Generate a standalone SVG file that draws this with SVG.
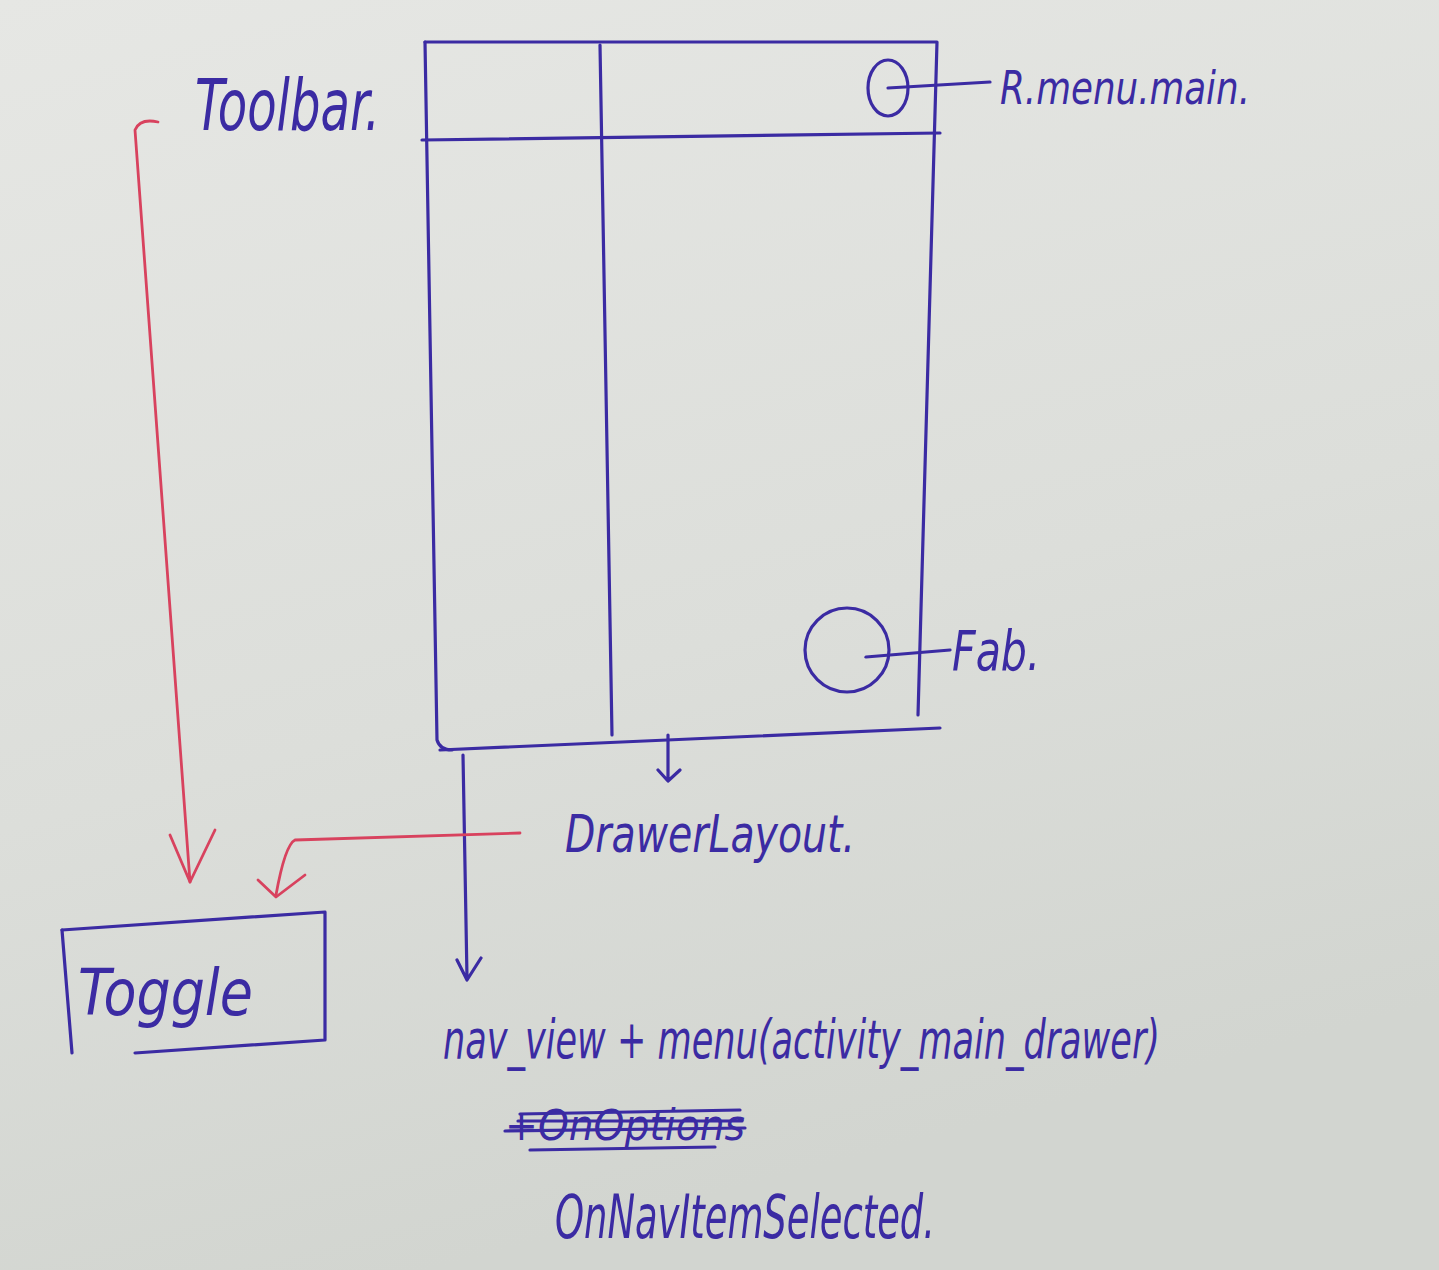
<svg xmlns="http://www.w3.org/2000/svg" width="1439" height="1270" viewBox="0 0 1439 1270">
<defs>
<linearGradient id="paper" x1="0" y1="0" x2="0.3" y2="1">
<stop offset="0" stop-color="#e6e7e4"/>
<stop offset="0.6" stop-color="#dcdeda"/>
<stop offset="1" stop-color="#d2d5d0"/>
</linearGradient>
<style>
.pen{fill:none;stroke:#3b2ba3;stroke-width:3.2;stroke-linecap:round;stroke-linejoin:round}
.red{fill:none;stroke:#d8425e;stroke-width:2.8;stroke-linecap:round;stroke-linejoin:round}
.t{fill:#3b2ba3;font-family:"DejaVu Sans Condensed","DejaVu Sans",sans-serif;font-style:italic}
</style>
</defs>
<rect width="1439" height="1270" fill="url(#paper)"/>

<g id="phone">
<path class="pen" d="M425,42 L937,42 L918,715"/>
<path class="pen" d="M425,42 L437,740 Q440,750 452,750"/>
<path class="pen" d="M422,140 L940,133"/>
<path class="pen" d="M600,45 L612,735"/>
<path class="pen" d="M440,750 L940,728"/>
</g>

<g id="menu-button">
<ellipse class="pen" cx="888" cy="88" rx="20" ry="28"/>
</g>

<g id="fab-button">
<circle class="pen" cx="847" cy="650" r="42"/>
</g>

<g id="toggle">
<path class="pen" d="M62,930 L325,912 L325,1040 L135,1053"/>
<path class="pen" d="M62,930 L72,1053"/>
<text class="t" x="78" y="1015" font-size="64" textLength="175" lengthAdjust="spacingAndGlyphs">Toggle</text>
</g>

<g id="label-toolbar">
<text class="t" x="195" y="130" font-size="72" textLength="185" lengthAdjust="spacingAndGlyphs">Toolbar.</text>
</g>

<g id="label-rmenu">
<text class="t" x="1000" y="104" font-size="46" textLength="250" lengthAdjust="spacingAndGlyphs">R.menu.main.</text>
</g>

<g id="label-fab">
<text class="t" x="952" y="670" font-size="56" textLength="88" lengthAdjust="spacingAndGlyphs">Fab.</text>
</g>

<g id="label-drawer">
<text class="t" x="565" y="852" font-size="52" textLength="290" lengthAdjust="spacingAndGlyphs">DrawerLayout.</text>
</g>

<g id="label-navview">
<text class="t" x="443" y="1058" font-size="54" textLength="717" lengthAdjust="spacingAndGlyphs">nav_view + menu(activity_main_drawer)</text>
</g>

<g id="label-options">
<text class="t" x="505" y="1140" font-size="42" textLength="240" lengthAdjust="spacingAndGlyphs">+OnOptions</text>
<path class="pen" d="M505,1131 L745,1128 M520,1114 L740,1110 M530,1150 L715,1147 M518,1121 L742,1121" stroke-width="2.6"/>
</g>

<g id="label-onnav">
<text class="t" x="555" y="1238" font-size="60" textLength="380" lengthAdjust="spacingAndGlyphs">OnNavItemSelected.</text>
</g>

<g id="connectors">
<path class="pen" d="M888,88 L990,82"/>
<path class="pen" d="M866,657 L950,650"/>
<path class="pen" d="M668,735 L668,780 M658,770 L668,781 L680,770"/>
<path class="pen" d="M463,755 L467,978 M457,960 L467,980 L481,958"/>
<path class="red" d="M158,122 Q140,118 135,130 L190,882"/>
<path class="red" d="M170,835 L190,882 L215,830"/>
<path class="red" d="M520,833 L295,840 Q285,845 276,895"/>
<path class="red" d="M258,880 L276,897 L305,875"/>
</g>
</svg>
